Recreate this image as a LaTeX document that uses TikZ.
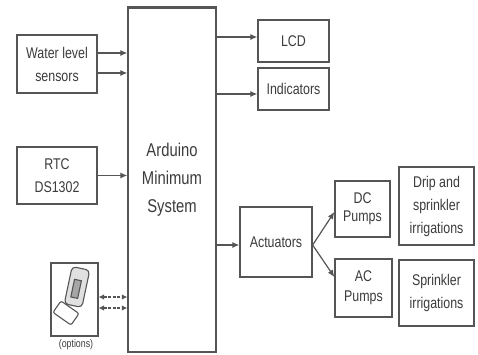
\documentclass[tikz,border=0pt]{standalone}
\usepackage{fontspec}
\setmainfont{Liberation Sans}[FakeStretch=0.8]
\usetikzlibrary{arrows.meta,calc}
\definecolor{ln}{HTML}{555555}
\definecolor{tx}{HTML}{3C3C3C}
\tikzset{
  box/.style={draw=ln, line width=1.3pt, fill=white, text=tx, align=center, inner sep=1pt, font=\fontsize{15.5}{23}\selectfont},
  arr/.style={draw=ln, line width=1.2pt, -{Latex[length=7pt,width=6pt]}},
  darr/.style={draw=ln, line width=1.1pt, dash pattern=on 3pt off 1.5pt, {Latex[length=5.5pt,width=5.5pt]}-{Latex[length=5.5pt,width=5.5pt]}},
}
\begin{document}
\begin{tikzpicture}[x=1pt,y=-1pt]
\useasboundingbox (0,0) rectangle (478,355);
\node[box, minimum width=80pt, minimum height=58pt] (water) at (57,64) {Water level\\sensors};
\node[box, minimum width=80pt, minimum height=57pt] (rtc) at (57,175.5) {RTC\\DS1302};
\node[box, minimum width=88pt, minimum height=344pt, font=\fontsize{18.5}{28}\selectfont] (ard) at (172,180) {Arduino\\Minimum\\System};
\draw[ln, line width=2.2pt] (ard.north west) -- (ard.north east);
\node[box, minimum width=71pt, minimum height=42pt] (lcd) at (293.5,41) {LCD};
\node[box, minimum width=71pt, minimum height=42pt] (ind) at (293.5,89) {Indicators};
\node[box, minimum width=72pt, minimum height=70pt] (act) at (276,242) {Actuators};
\node[box, minimum width=55pt, minimum height=56pt, font=\fontsize{15.5}{18}\selectfont] (dc) at (362.5,209) {DC\\Pumps};
\node[box, minimum width=57pt, minimum height=58pt, font=\fontsize{15.5}{20}\selectfont] (ac) at (363.5,288) {AC\\Pumps};
\node[box, minimum width=75pt, minimum height=78pt] (drip) at (436.5,206) {Drip and\\sprinkler\\irrigations};
\node[box, minimum width=75pt, minimum height=66pt] (spr) at (436.5,293) {Sprinkler\\irrigations};
\node[draw=ln, line width=1.1pt, minimum width=47pt, minimum height=73pt] (pc) at (74.5,299.5) {};
\node[text=tx, font=\fontsize{11}{12}\selectfont, inner sep=0pt] (opt) at (76,345) {(options)};
% computer icon
\begin{scope}[ln, line width=1.1pt]
  \draw[fill=black!12, rounded corners=4pt, rotate around={-12:(77,287)}] (68,268) rectangle (86,306);
  \draw[fill=black!35, rotate around={-12:(77,287)}] (73,280) rectangle (80,298);
  \draw[fill=white, rounded corners=2pt, rotate around={-35:(66,313)}] (55,306) rectangle (77,320);
\end{scope}
% arrows
\draw[arr] ($(water.east)+(0,-11)$) -- (ard.west |- {$(water.east)+(0,-11)$});
\draw[arr] ($(water.east)+(0,9)$) -- (ard.west |- {$(water.east)+(0,9)$});
\draw[arr] (rtc.east) -- (ard.west |- rtc.east);
\draw[arr] (ard.east |- {$(lcd.west)+(0,-4)$}) -- ($(lcd.west)+(0,-4)$);
\draw[arr] (ard.east |- {$(ind.west)+(0,5)$}) -- ($(ind.west)+(0,5)$);
\draw[arr] (ard.east |- {$(act.west)+(0,3)$}) -- ($(act.west)+(0,3)$);
\coordinate (fan) at ($(act.east)+(0,3)$);
\draw[arr] (fan) -- ($(dc.west)+(0,3)$);
\draw[arr] (fan) -- ($(ac.west)+(0,-11)$);
\draw[darr] ($(pc.east)+(0,-2.5)$) -- (ard.west |- {$(pc.east)+(0,-2.5)$});
\draw[darr] ($(pc.east)+(0,8.5)$) -- (ard.west |- {$(pc.east)+(0,8.5)$});
\end{tikzpicture}
\end{document}
